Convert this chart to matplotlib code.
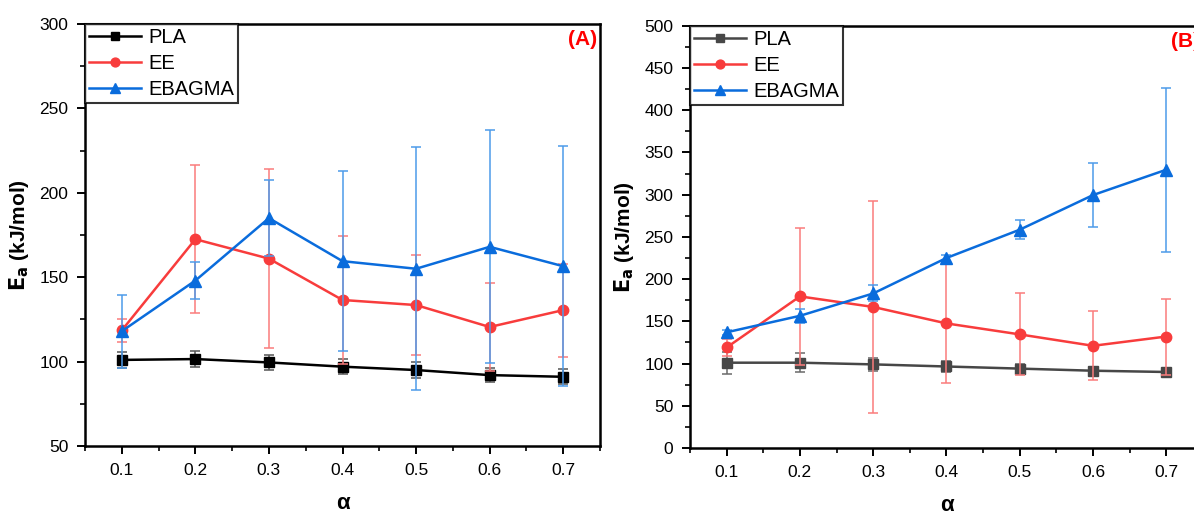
import matplotlib
matplotlib.use("Agg")
import matplotlib.pyplot as plt
from matplotlib.ticker import MultipleLocator

plt.rcParams['font.family'] = ['Liberation Sans', 'DejaVu Sans']

alpha = [0.1, 0.2, 0.3, 0.4, 0.5, 0.6, 0.7]

# Panel A
pla_a = [101, 101.5, 99.5, 97, 95, 92, 91]
pla_a_err = [4.5, 4.5, 4.5, 4.5, 4.5, 4, 4.5]
ee_a = [118.5, 172.5, 161, 136.5, 133.5, 120.5, 130.5]
ee_a_err = [7, 44, 53, 38, 29.5, 26, 27.5]
eb_a = [118, 148, 185, 159.5, 155, 168, 156.5]
eb_a_err = [21.5, 11, 22.5, 53.5, 72, 69, 71]

# Panel B
pla_b = [101, 101, 99, 96.5, 94, 91.5, 90]
pla_b_err = [13, 11, 8, 6, 5, 4, 3]
ee_b = [119, 179.5, 167, 147.5, 134.5, 121, 132]
ee_b_err = [10, 81, 125, 70.5, 48.5, 41, 45]
eb_b = [137, 156.5, 183, 225, 258.5, 299.5, 329.5]
eb_b_err = [3, 8, 9.5, 4, 11, 37.5, 97]

labels = ["PLA", "EE", "EBAGMA"]

RED = '#F83C3C'
RED_E = '#FA7C7C'
BLUE = '#0A6CDC'
BLUE_E = '#4D9BEA'

fig = plt.figure(figsize=(11.94, 5.14), dpi=100)
axA = fig.add_axes([85/1194, 68/514, (600-85)/1194, (446-24)/514])
axB = fig.add_axes([690/1194, 66/514, (1203-690)/1194, (448-25.7)/514])


def draw(ax, pla, pla_e, ee, ee_e, eb, eb_e, pla_col, pla_ecol, ylim, tag):
    kw = dict(capsize=3.5, elinewidth=1.1, capthick=1.1, linewidth=1.8)
    c1 = ax.errorbar(alpha, pla, yerr=pla_e, color=pla_col, ecolor=pla_ecol,
                     marker='s', markersize=7, label=labels[0], zorder=3, **kw)
    c2 = ax.errorbar(alpha, ee, yerr=ee_e, color=RED, ecolor=RED_E,
                     marker='o', markersize=7.5, label=labels[1], zorder=4, **kw)
    c3 = ax.errorbar(alpha, eb, yerr=eb_e, color=BLUE, ecolor=BLUE_E,
                     marker='^', markersize=8.5, label=labels[2], zorder=5, **kw)
    ax.set_xlim(0.05, 0.75)
    ax.set_ylim(*ylim)
    ax.xaxis.set_minor_locator(MultipleLocator(0.05))
    ax.yaxis.set_major_locator(MultipleLocator(50))
    ax.yaxis.set_minor_locator(MultipleLocator(25))
    ax.set_xticks(alpha)
    ax.set_xticklabels([f"{a:.1f}" for a in alpha])
    ax.tick_params(which='major', direction='out', length=6, width=1.4,
                   labelsize=12.5, top=False, right=False, pad=6)
    ax.tick_params(which='minor', direction='out', length=3.5, width=1.2,
                   top=False, right=False)
    for s in ax.spines.values():
        s.set_linewidth(1.8)
    ax.set_xlabel('α', fontsize=16, fontweight='bold', labelpad=11)
    ax.set_ylabel(r'$\mathbf{E_a}$ (kJ/mol)', fontsize=15, fontweight='bold', labelpad=6)
    handles = [c1[0], c2[0], c3[0]]
    leg = ax.legend(handles=handles, labels=labels, loc='upper left',
                    bbox_to_anchor=(0, 1), fontsize=14.5,
                    frameon=True, fancybox=False, edgecolor='black',
                    borderaxespad=0, handlelength=2.6, handletextpad=0.35,
                    labelspacing=0.35, borderpad=0.2, markerscale=0.85)
    leg.get_frame().set_linewidth(1.5)
    ax.text(0.995, 0.985, tag, transform=ax.transAxes, ha='right', va='top',
            color='red', fontsize=15, fontweight='bold')


draw(axA, pla_a, pla_a_err, ee_a, ee_a_err, eb_a, eb_a_err,
     'black', '#555555', (50, 300), '(A)')
draw(axB, pla_b, pla_b_err, ee_b, ee_b_err, eb_b, eb_b_err,
     '#474747', '#6a6a6a', (0, 500), '(B)')

fig.savefig('out.png', dpi=100)
